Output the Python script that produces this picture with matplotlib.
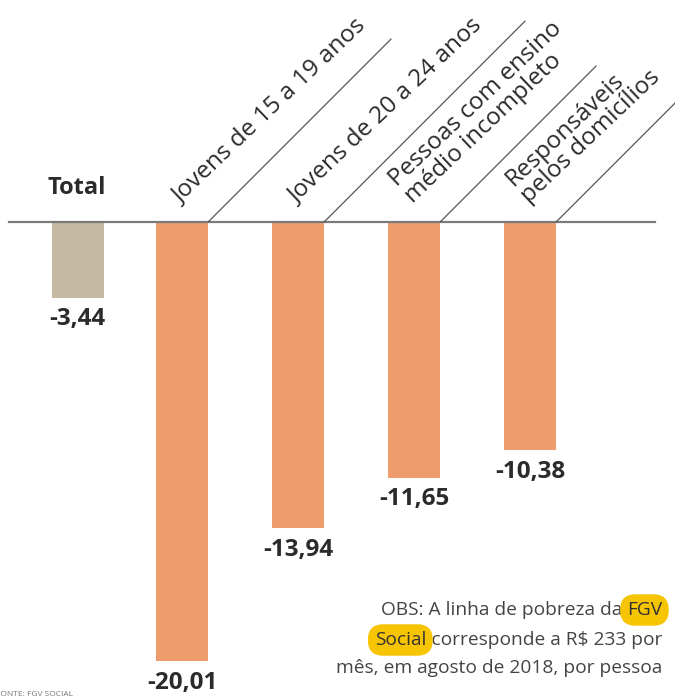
import matplotlib
matplotlib.use("Agg")
import matplotlib.pyplot as plt
import numpy as np

# ---- data ----
categories = ["Total", "Jovens de 15 a 19 anos", "Jovens de 20 a 24 anos",
              "Pessoas com ensino\nmédio incompleto", "Responsáveis\npelos domicílios"]
values = [-3.44, -20.01, -13.94, -11.65, -10.38]
value_labels = ["-3,44", "-20,01", "-13,94", "-11,65", "-10,38"]
note_lines = ["OBS: A linha de pobreza da FGV",
              "Social corresponde a R$ 233 por",
              "mês, em agosto de 2018, por pessoa"]
source = "FONTE: FGV SOCIAL"

# ---- layout/style ----
positions = [0.1, 1.0, 2.0, 3.0, 4.0]
colors = ["#C5B9A1", "#EE9C6B", "#EE9C6B", "#EE9C6B", "#EE9C6B"]
bar_w = 0.45
leader_len_px = [0, 183, 201, 156, 170]
FONT = ["Open Sans", "DejaVu Sans"]

W, H = 675, 698
fig = plt.figure(figsize=(W / 100, H / 100), dpi=100)
ax = fig.add_axes([0, 0, 1, 1])
ax.set_xlim((0 - 66) / 116, (W - 66) / 116)
ax.set_ylim(-(H - 222) / 21.95, 222 / 21.95)
ax.axis("off")

ax.bar(positions, values, width=bar_w, color=colors, zorder=2)
ax.axhline(0, xmin=9 / W, xmax=655 / W, color="#7a7a7a", lw=1.6, zorder=3)

# value labels
for p, v, lab in zip(positions, values, value_labels):
    ax.annotate(lab, xy=(p, v), xytext=(0, -7), textcoords="offset points",
                ha="center", va="top", fontsize=17.5, fontweight="bold",
                color="#2b2b2b", family=FONT)

# Total label
ax.annotate(categories[0], xy=(positions[0], 0), xytext=(-1, 16), textcoords="offset points",
            ha="center", va="bottom", fontsize=17, fontweight="bold",
            color="#2b2b2b", family=FONT)

# diagonal labels and leader lines
for p, cat, L in zip(positions[1:], categories[1:], leader_len_px[1:]):
    xr = p + bar_w / 2
    xl = p - bar_w / 2
    d = L * 0.72  # px -> points
    ax.annotate("", xy=(xr, 0), xytext=(d, d), textcoords="offset points",
                arrowprops=dict(arrowstyle="-", color="#555555", lw=0.9,
                                shrinkA=0, shrinkB=0), annotation_clip=False)
    ax.annotate(cat, xy=(xl, 0), xytext=(21, 10), textcoords="offset points",
                ha="left", va="bottom", rotation=43.5, rotation_mode="anchor",
                fontsize=17.5, color="#2b2b2b", family=FONT, linespacing=0.95,
                multialignment="left")

# note with highlights
note_x = 662 / W
note_ys = [1 - 610 / H, 1 - 640 / H, 1 - 668 / H]
NOTE_FS = 13.8
texts = []
for s, y in zip(note_lines, note_ys):
    t = fig.text(note_x, y, s, ha="right", va="center", fontsize=NOTE_FS,
                 color="#444444", family=FONT, zorder=5)
    texts.append(t)

fig.canvas.draw()
r = fig.canvas.get_renderer()
hl = dict(boxstyle="round,pad=0.35,rounding_size=0.8", fc="#F6C400", ec="none")
fig.text(note_x, note_ys[0], "FGV", ha="right", va="center", fontsize=NOTE_FS,
         color="#333333", family=FONT, zorder=6, bbox=hl)
bb = texts[1].get_window_extent(r)
fig.text(bb.x0 / W, note_ys[1], "Social", ha="left", va="center", fontsize=NOTE_FS,
         color="#333333", family=FONT, zorder=6, bbox=hl)

fig.text(-4 / W, 1 - 694 / H, source, ha="left", va="center", fontsize=6,
         color="#777777", family=FONT)

fig.savefig("out.png", dpi=100)
